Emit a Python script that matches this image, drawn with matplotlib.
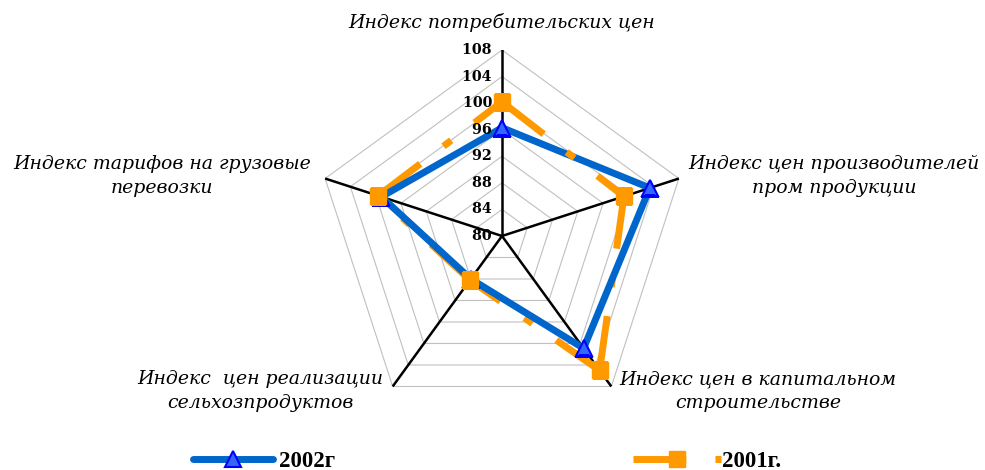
import numpy as np
import matplotlib
matplotlib.use("Agg")
import matplotlib.pyplot as plt
from matplotlib.lines import Line2D

categories = ["Индекс потребительских цен",
              "Индекс цен производителей\nпром продукции",
              "Индекс цен в капитальном\nстроительстве",
              "Индекс  цен реализации\nсельхозпродуктов",
              "Индекс тарифов на грузовые\nперевозки"]
series_2002 = [96.3, 103.4, 100.9, 88.0, 99.1]
series_2001 = [100.2, 99.3, 105.0, 88.2, 99.6]
series_names = ["2002г", "2001г."]
r_ticks = [80, 84, 88, 92, 96, 100, 104, 108]

W, H = 985, 470
fig = plt.figure(figsize=(W / 100, H / 100), dpi=100)
cx, cy, R = 502, 236, 186
ax = fig.add_axes([(cx - R) / W, (H - cy - R) / H, 2 * R / W, 2 * R / H],
                  projection="polar")
ax.set_theta_offset(np.pi / 2)
ax.set_theta_direction(-1)
ax.set_ylim(r_ticks[0], r_ticks[-1])
ax.grid(False)
ax.spines["polar"].set_visible(False)
ax.set_xticks([])
ax.set_yticks([])
ax.patch.set_alpha(0)

n = len(categories)
theta = np.linspace(0, 2 * np.pi, n, endpoint=False)
theta_c = np.append(theta, theta[0])

# polygon grid
for r in r_ticks[1:]:
    ax.plot(theta_c, [r] * (n + 1), color="#C0C0C0", lw=0.8, zorder=1)
# spokes
for t in theta:
    ax.plot([t, t], [r_ticks[0], r_ticks[-1]], color="black", lw=1.8, zorder=2)

# tick labels
for r in r_ticks:
    ax.text(0, r, f"{r}  ", ha="right", va="center", fontsize=10.3,
            fontweight="bold", family="DejaVu Serif", zorder=7)

v02 = np.append(series_2002, series_2002[0])
v01 = np.append(series_2001, series_2001[0])
DASH = (0, (7.6, 4.2, 1.4, 4.2))
ax.plot(theta_c, v02, color="#0066CC", lw=5, solid_joinstyle="miter", zorder=3)
ax.plot(theta, series_2002, ls="none", marker="^", ms=11.5,
        mfc="#3366FF", mec="#0000FF", mew=1.5, zorder=4)
# 2001 series: dash pattern restarts on every segment
for i in range(n):
    ax.plot(theta_c[i:i + 2], v01[i:i + 2], color="#FF9900", lw=5, ls=DASH,
            dash_capstyle="butt", zorder=5 if i == 0 else 2.5)
ax.plot(theta, series_2001, ls="none", marker="s", ms=11,
        mfc="#FF9900", mec="#FF9900", zorder=6)

# category labels
lab_pos = [(502, 22), (834, 176), (758, 391), (260, 391), (162, 176)]
for txt, (x, y) in zip(categories, lab_pos):
    fig.text(x / W, 1 - y / H, txt, ha="center", va="center", fontsize=13.6,
             style="italic", family="DejaVu Serif", linespacing=1.38)

# legend
FS = 16.5
FSPX = FS * 100 / 72
h02 = Line2D([], [], color="#0066CC", lw=5, marker="^", ms=11.5,
             mfc="#3366FF", mec="#0000FF", mew=1.5, solid_capstyle="round")
h01 = Line2D([], [], color="#FF9900", lw=5, ls=DASH, dash_capstyle="butt",
             marker="s", ms=11, mfc="#FF9900", mec="#FF9900")
prop = {"family": "Liberation Serif", "weight": "bold", "size": FS}
l1 = fig.legend([h02], [series_names[0]], loc="center left", frameon=False,
                borderpad=0, borderaxespad=0, prop=prop,
                handlelength=80 / FSPX, handletextpad=6 / FSPX,
                bbox_to_anchor=(193 / W, 1 - 461 / H))
l2 = fig.legend([h01], [series_names[1]], loc="center left", frameon=False,
                borderpad=0, borderaxespad=0, prop=prop,
                handlelength=88 / FSPX, handletextpad=1 / FSPX,
                bbox_to_anchor=(633 / W, 1 - 461 / H))

fig.savefig("out.png", dpi=100)
